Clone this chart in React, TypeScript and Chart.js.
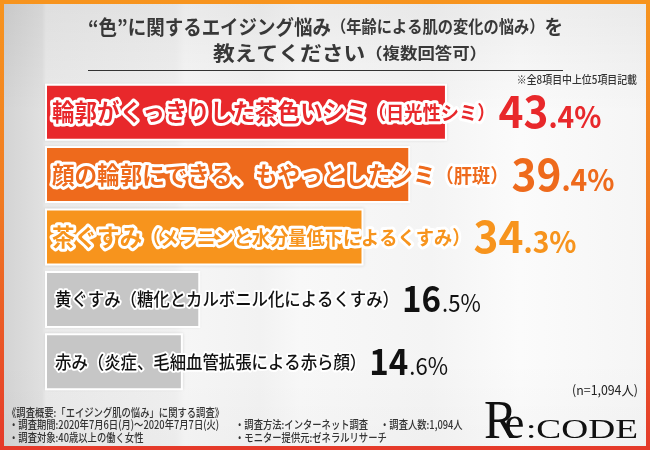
import React, { useEffect, useRef } from "react";
import { Chart, registerables } from "chart.js";

Chart.register(...registerables);

// ---- data ----
const mainLabels = [
  "輪郭がくっきりした茶色いシミ",
  "顔の輪郭にできる、もやっとしたシミ",
  "茶ぐすみ",
  "黄ぐすみ",
  "赤み",
];
const subLabels = [
  "（日光性シミ）",
  "（肝斑）",
  "（メラニンと水分量低下によるくすみ）",
  "（糖化とカルボニル化によるくすみ）",
  "（炎症、毛細血管拡張による赤ら顔）",
];
const values = [43.4, 39.4, 34.3, 16.5, 14.6];
const barColors = ["#e8282b", "#ee6a1c", "#f7941d", "#c6c6c6", "#c6c6c6"];
const valueColors = ["#e8282b", "#ee6a1c", "#f7941d", "#111111", "#111111"];

const titleLine1 = ["“色”に関するエイジング悩み", "（年齢による肌の変化の悩み）", "を"];
const titleLine2 = ["教えてください", "（複数回答可）"];
const noteText = "※全8項目中上位5項目記載";
const sampleText = "(n=1,094人)";
const footerLines = [
  "《調査概要:「エイジング肌の悩み」に関する調査》",
  "・調査期間:2020年7月6日(月)～2020年7月7日(火)",
  "・調査方法:インターネット調査",
  "・調査人数:1,094人",
  "・調査対象:40歳以上の働く女性",
  "・モニター提供元:ゼネラルリサーチ",
];

const labels = mainLabels.map((m, i) => m + subLabels[i]);

const FONT = '"Noto Sans CJK JP", "Noto Sans", sans-serif';

function drawText(
  ctx: CanvasRenderingContext2D,
  text: string,
  x: number,
  y: number,
  font: string,
  sx: number,
  fill: string,
  stroke?: string,
  lw?: number
): number {
  ctx.save();
  ctx.font = font;
  const w = ctx.measureText(text).width * sx;
  ctx.translate(x, y);
  ctx.scale(sx, 1);
  if (stroke && lw) {
    ctx.lineJoin = "round";
    ctx.lineWidth = lw;
    ctx.strokeStyle = stroke;
    ctx.strokeText(text, 0, 0);
  }
  ctx.fillStyle = fill;
  ctx.fillText(text, 0, 0);
  ctx.restore();
  return w;
}

function measure(ctx: CanvasRenderingContext2D, text: string, font: string) {
  ctx.save();
  ctx.font = font;
  const w = ctx.measureText(text).width;
  ctx.restore();
  return w;
}

function drawFitLine(
  ctx: CanvasRenderingContext2D,
  parts: string[],
  fonts: string[],
  x0: number,
  x1: number,
  y: number,
  color: string
) {
  let total = 0;
  parts.forEach((p, i) => (total += measure(ctx, p, fonts[i])));
  const sx = (x1 - x0) / total;
  let x = x0;
  ctx.textBaseline = "middle";
  ctx.textAlign = "left";
  parts.forEach((p, i) => {
    x += drawText(ctx, p, x, y, fonts[i], sx, color);
  });
}

const overlay = {
  id: "overlay",
  beforeDatasetsDraw(chart: any) {
    const ctx: CanvasRenderingContext2D = chart.ctx;
    const meta = chart.getDatasetMeta(0);
    meta.data.forEach((bar: any) => {
      const p = bar.getProps(["x", "y", "base", "height"], true);
      ctx.save();
      ctx.fillStyle = "#ffffff";
      ctx.shadowColor = "rgba(0,0,0,0.12)";
      ctx.shadowBlur = 3;
      ctx.fillRect(p.base - 2, p.y - p.height / 2 - 2, p.x - p.base + 4, p.height + 4);
      ctx.restore();
    });
  },
  afterDatasetsDraw(chart: any) {
    const ctx: CanvasRenderingContext2D = chart.ctx;
    const meta = chart.getDatasetMeta(0);
    const left = chart.chartArea.left;
    meta.data.forEach((bar: any, i: number) => {
      const p = bar.getProps(["x", "y"], true);
      const strong = i < 3;
      const y = p.y;
      ctx.textBaseline = "middle";
      ctx.textAlign = "left";
      let x = left + (strong ? 5 : 8);
      if (strong) {
        const mainF = `bold 23.5px ${FONT}`;
        const subF = `bold 19px ${FONT}`;
        const sx = 0.96;
        x += drawText(ctx, mainLabels[i], x, y, mainF, sx, valueColors[i], "#ffffff", 6);
        x += drawText(ctx, subLabels[i], x, y + 1, subF, sx, valueColors[i], "#ffffff", 6);
      } else {
        const f = `500 18px ${FONT}`;
        const sx = 0.91;
        x += drawText(ctx, mainLabels[i], x, y, f, sx, "#111111", "#ffffff", 4);
        x += drawText(ctx, subLabels[i], x, y, f, sx, "#111111", "#ffffff", 4);
      }
      // value
      const [ip, dp] = values[i].toFixed(1).split(".");
      ctx.textBaseline = "alphabetic";
      x += 3;
      if (strong) {
        x += drawText(ctx, ip, x, y + 16, `bold 45px ${FONT}`, 0.94, valueColors[i]);
        drawText(ctx, "." + dp + "%", x, y + 16, `bold 30px ${FONT}`, 0.94, valueColors[i]);
      } else {
        x += drawText(ctx, ip, x, y + 13, `bold 36px ${FONT}`, 0.92, valueColors[i]);
        drawText(ctx, "." + dp + "%", x + 1, y + 13, `400 24px ${FONT}`, 0.92, valueColors[i]);
      }
    });
  },
  afterDraw(chart: any) {
    const ctx: CanvasRenderingContext2D = chart.ctx;
    const big = `bold 20px ${FONT}`;
    const small = `bold 16.5px ${FONT}`;
    drawFitLine(ctx, titleLine1, [big, small, big], 88, 563, 27, "#383838");
    drawFitLine(ctx, titleLine2, [big, `bold 16px ${FONT}`], 213, 487, 53, "#383838");
    // separator
    ctx.save();
    ctx.strokeStyle = "#333333";
    ctx.lineWidth = 1;
    ctx.beginPath();
    ctx.moveTo(88, 70.5);
    ctx.lineTo(563, 70.5);
    ctx.stroke();
    ctx.restore();
    // note
    ctx.textBaseline = "middle";
    const nf = `500 11px ${FONT}`;
    const nw = measure(ctx, noteText, nf) * 0.9;
    drawText(ctx, noteText, 637 - nw, 80, nf, 0.9, "#333333");
    // sample
    const sf = `400 13px ${FONT}`;
    const sw = measure(ctx, sampleText, sf) * 0.95;
    drawText(ctx, sampleText, 638 - sw, 390, sf, 0.95, "#222222");
    // footer
    const ff = `500 11.5px ${FONT}`;
    const fs = 0.81;
    drawText(ctx, footerLines[0], 7, 413, ff, fs, "#333333");
    drawText(ctx, footerLines[1], 9, 425, ff, fs, "#333333");
    drawText(ctx, footerLines[2], 235, 425, ff, fs, "#333333");
    drawText(ctx, footerLines[3], 380, 425, ff, fs, "#333333");
    drawText(ctx, footerLines[4], 9, 438, ff, fs, "#333333");
    drawText(ctx, footerLines[5], 235, 438, ff, fs, "#333333");
    // logo
    ctx.textBaseline = "alphabetic";
    const serif = '"Liberation Serif", "DejaVu Serif", serif';
    drawText(ctx, "R", 484, 438, `400 54px ${serif}`, 0.92, "#111111");
    drawText(ctx, "e", 504, 438, `400 46px ${serif}`, 1.0, "#111111");
    const cf = `400 27px ${serif}`;
    const cw = measure(ctx, ":CODE", cf);
    drawText(ctx, ":CODE", 526, 438, cf, (638 - 526) / cw, "#111111");
  },
};

export default function App() {
  const ref = useRef<HTMLCanvasElement | null>(null);
  useEffect(() => {
    if (!ref.current) return;
    const chart = new Chart(ref.current, {
      type: "bar",
      data: {
        labels,
        datasets: [
          {
            data: values,
            backgroundColor: barColors,
            borderWidth: 0,
            barPercentage: 0.85,
            categoryPercentage: 1,
          },
        ],
      },
      options: {
        animation: false,
        responsive: false,
        indexAxis: "y",
        layout: { padding: { left: 47, right: 7, top: 81, bottom: 57 } },
        scales: {
          x: { display: false, min: 0, max: 65 },
          y: { display: false },
        },
        plugins: {
          legend: { display: false },
          tooltip: { enabled: false },
          title: { display: false },
        },
      },
      plugins: [overlay],
    } as any);
    return () => chart.destroy();
  }, []);

  return (
    <div
      style={{
        position: "fixed",
        left: 0,
        top: 0,
        width: 650,
        height: 450,
        overflow: "hidden",
        background:
          "linear-gradient(180deg, rgba(0,0,0,0.05) 0%, rgba(0,0,0,0) 25%, rgba(0,0,0,0) 80%, rgba(0,0,0,0.02) 100%), linear-gradient(90deg, #d2d2d2 0px, #e0e0e0 42px, #eaeaea 46px, #f0f0f0 175px, #f6f6f6 185px, #f2f2f2 260px, #f8f8f8 300px, #f4f4f4 430px, #fbfbfb 520px, #f5f5f5 650px)",
      }}
    >
      <canvas
        ref={ref}
        width={650}
        height={450}
        style={{ position: "absolute", left: 0, top: 0, width: 650, height: 450 }}
      />
      <div
        style={{
          position: "absolute",
          inset: 0,
          boxSizing: "border-box",
          border: "4px solid",
          borderImage: "linear-gradient(180deg, #f7941e 0%, #f07a22 45%, #e53a2a 100%) 1",
          pointerEvents: "none",
        }}
      />
    </div>
  );
}
